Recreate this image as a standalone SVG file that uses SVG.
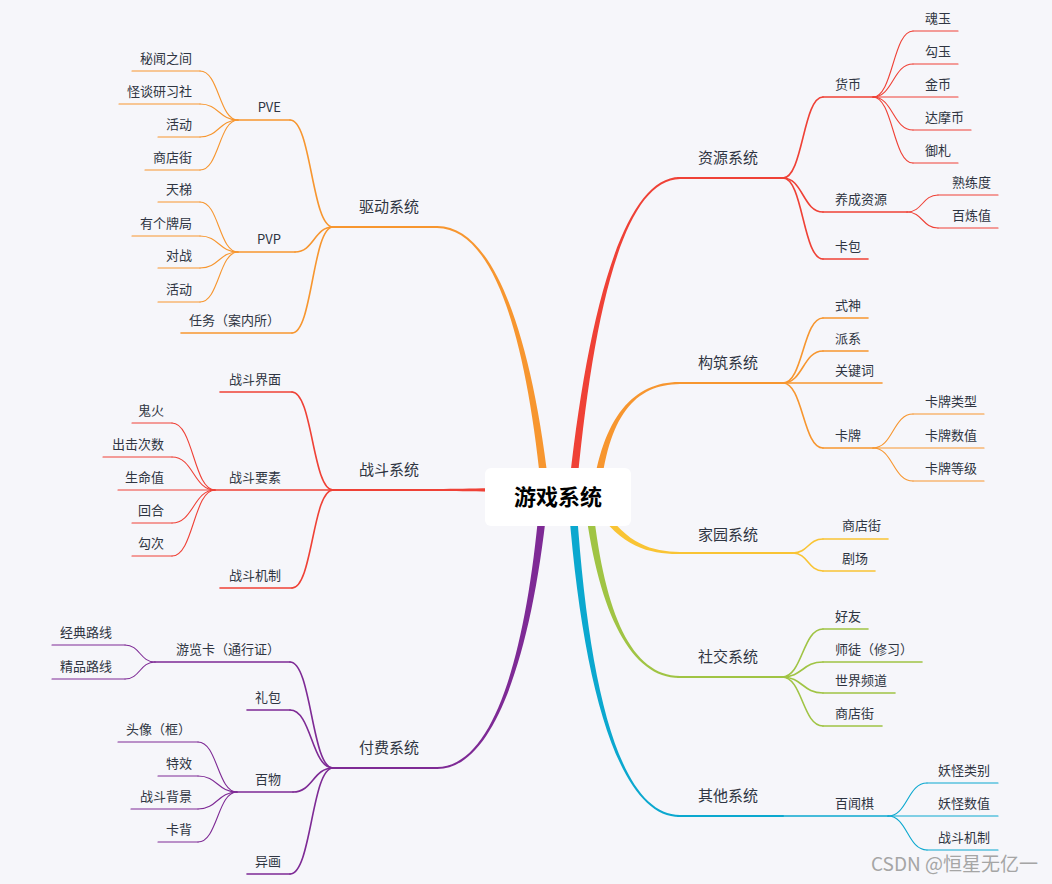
<svg xmlns="http://www.w3.org/2000/svg" width="1052" height="884" viewBox="0 0 1052 884">
<style>
text{font-family:"Noto Sans CJK SC","Microsoft YaHei","Noto Sans",sans-serif;fill:#2f3542}
.t1{font-size:15px}
.t2{font-size:13px}
.e{text-anchor:end}
.c0{font-size:22px;font-weight:bold;fill:#000;text-anchor:middle}
.wm{font-size:19px;fill:#a5a5a5;text-anchor:end}
line,path.k{fill:none;stroke-linecap:round}
.w1{stroke-width:2}
.w2{stroke-width:1.6}
.w3{stroke-width:1.1}
.red{stroke:#ef4136}
.org{stroke:#f7962f}
.yel{stroke:#f9c434}
.grn{stroke:#a0c444}
.cyn{stroke:#0ba8cf}
.pur{stroke:#7e2a95}
</style>
<rect width="1052" height="884" fill="#f6f6fa"/>
<g id="connectors">
<!-- main tapered branches -->
<path fill="#f7962f" d="M550 497 C533 340,495 225.5,437 226 L437 228 C495 228.5,527 340,542 497 Z"/>
<path fill="#ef4136" d="M490 488.3 C470 488.5,455 489,437 489 L437 491 C455 491,470 491.5,490 491.7 Z"/>
<path fill="#7e2a95" d="M548 497 C533 650,495 769.5,437 769 L437 767 C495 766.5,527 650,540 497 Z"/>
<path fill="#ef4136" d="M568 497 C585 330,620 176.5,680 177 L680 179 C620 179.5,591 330,576 497 Z"/>
<path fill="#f7962f" d="M592 497 C602 415,635 381.5,680 382 L680 384 C635 384.5,608 415,600 497 Z"/>
<path fill="#f9c434" d="M591 500 C617 547,650 554.5,680 554 L680 552 C650 551.5,623 543,599 500 Z"/>
<path fill="#a0c444" d="M584 497 C597 610,630 678.5,680 678 L680 676 C630 675.5,603 610,592 497 Z"/>
<path fill="#0ba8cf" d="M568 497 C582 690,620 817.5,680 817 L680 815 C620 814.5,588 690,576 497 Z"/>
<!-- 驱动系统 -->
<path class="k org w2" d="M333 227 C311.5 227,311.5 120,290 120"/>
<path class="k org w2" d="M333 227 C314 227,314 252,295 252"/>
<path class="k org w2" d="M333 227 C312.5 227,312.5 333,292 333"/>
<path class="k org w3" d="M238 120 C219 120,219 71,200 71"/>
<path class="k org w3" d="M238 120 C219 120,219 104,200 104"/>
<path class="k org w3" d="M238 120 C219 120,219 137,200 137"/>
<path class="k org w3" d="M238 120 C219 120,219 170,200 170"/>
<path class="k org w3" d="M238 252 C219 252,219 202,200 202"/>
<path class="k org w3" d="M238 252 C219 252,219 236,200 236"/>
<path class="k org w3" d="M238 252 C219 252,219 268,200 268"/>
<path class="k org w3" d="M238 252 C219 252,219 302,200 302"/>
<!-- 战斗系统 -->
<path class="k red w2" d="M333 490 C312.5 490,312.5 392,292 392"/>
<path class="k red w2" d="M333 490 C312.5 490,312.5 588,292 588"/>
<path class="k red w3" d="M215 490 C193.5 490,193.5 423,172 423"/>
<path class="k red w3" d="M215 490 C193.5 490,193.5 457,172 457"/>
<path class="k red w3" d="M215 490 C193.5 490,193.5 523,172 523"/>
<path class="k red w3" d="M215 490 C193.5 490,193.5 556,172 556"/>
<!-- 付费系统 -->
<path class="k pur w2" d="M333 768 C311.5 768,311.5 662,290 662"/>
<path class="k pur w2" d="M333 768 C311.5 768,311.5 710,290 710"/>
<path class="k pur w2" d="M333 768 C313 768,313 792,293 792"/>
<path class="k pur w2" d="M333 768 C311.5 768,311.5 874,290 874"/>
<path class="k pur w3" d="M155 662 C140 662,140 645,125 645"/>
<path class="k pur w3" d="M155 662 C140 662,140 679,125 679"/>
<path class="k pur w3" d="M237 792 C217.5 792,217.5 742,198 742"/>
<path class="k pur w3" d="M237 792 C217.5 792,217.5 776,198 776"/>
<path class="k pur w3" d="M237 792 C217.5 792,217.5 809,198 809"/>
<path class="k pur w3" d="M237 792 C217.5 792,217.5 842,198 842"/>
<!-- 资源系统 -->
<path class="k red w2" d="M783 178 C803 178,803 97,823 97"/>
<path class="k red w2" d="M783 178 C803 178,803 212,823 212"/>
<path class="k red w2" d="M783 178 C803 178,803 259,823 259"/>
<path class="k red w3" d="M873 97 C893 97,893 31,913 31"/>
<path class="k red w3" d="M873 97 C893 97,893 64,913 64"/>
<path class="k red w3" d="M873 97 C893 97,893 130,913 130"/>
<path class="k red w3" d="M873 97 C893 97,893 163,913 163"/>
<path class="k red w3" d="M907 212 C922.5 212,922.5 195,938 195"/>
<path class="k red w3" d="M907 212 C922.5 212,922.5 228,938 228"/>
<!-- 构筑系统 -->
<path class="k org w2" d="M783 383 C803 383,803 318,823 318"/>
<path class="k org w2" d="M783 383 C803 383,803 351,823 351"/>
<path class="k org w2" d="M783 383 C803 383,803 448,823 448"/>
<path class="k org w3" d="M873 448 C893 448,893 414,913 414"/>
<path class="k org w3" d="M873 448 C893 448,893 481,913 481"/>
<!-- 家园系统 -->
<path class="k yel w2" d="M793 553 C808 553,808 539,823 539"/>
<path class="k yel w2" d="M793 553 C808 553,808 571,823 571"/>
<!-- 社交系统 -->
<path class="k grn w2" d="M782 677 C802.5 677,802.5 629,823 629"/>
<path class="k grn w2" d="M782 677 C802.5 677,802.5 662,823 662"/>
<path class="k grn w2" d="M782 677 C802.5 677,802.5 693,823 693"/>
<path class="k grn w2" d="M782 677 C802.5 677,802.5 726,823 726"/>
<!-- 其他系统 -->
<path class="k cyn w3" d="M888 816 C907.5 816,907.5 783,927 783"/>
<path class="k cyn w3" d="M888 816 C907.5 816,907.5 850,927 850"/>
</g>

<g id="root">
<rect x="485" y="468" width="146" height="58" rx="6" fill="#fff"/>
<text class="c0" x="558" y="505">游戏系统</text>
</g>

<!-- 驱动系统 -->
<g id="n-qudong"><line class="org w1" x1="333" y1="227" x2="437" y2="227"/><text class="t1 e" x="419" y="212">驱动系统</text></g>
<g id="n-pve"><line class="org w2" x1="238" y1="120" x2="290" y2="120"/><text class="t2 e" x="281" y="112">PVE</text></g>
<g id="n-mwzj"><line class="org w3" x1="132" y1="71" x2="200" y2="71"/><text class="t2 e" x="192" y="63">秘闻之间</text></g>
<g id="n-gtyxs"><line class="org w3" x1="119" y1="104" x2="200" y2="104"/><text class="t2 e" x="192" y="96">怪谈研习社</text></g>
<g id="n-hd1"><line class="org w3" x1="158" y1="137" x2="200" y2="137"/><text class="t2 e" x="192" y="129">活动</text></g>
<g id="n-sdj1"><line class="org w3" x1="145" y1="170" x2="200" y2="170"/><text class="t2 e" x="192" y="162">商店街</text></g>
<g id="n-pvp"><line class="org w2" x1="238" y1="252" x2="295" y2="252"/><text class="t2 e" x="281" y="244">PVP</text></g>
<g id="n-tt"><line class="org w3" x1="158" y1="202" x2="200" y2="202"/><text class="t2 e" x="192" y="194">天梯</text></g>
<g id="n-ygpj"><line class="org w3" x1="132" y1="236" x2="200" y2="236"/><text class="t2 e" x="192" y="228">有个牌局</text></g>
<g id="n-dz"><line class="org w3" x1="158" y1="268" x2="200" y2="268"/><text class="t2 e" x="192" y="260">对战</text></g>
<g id="n-hd2"><line class="org w3" x1="158" y1="302" x2="200" y2="302"/><text class="t2 e" x="192" y="294">活动</text></g>
<g id="n-rw"><line class="org w2" x1="181" y1="333" x2="292" y2="333"/><text class="t2 e" x="280" y="325">任务（案内所）</text></g>

<!-- 战斗系统 -->
<g id="n-zhandou"><line class="red w1" x1="333" y1="490" x2="437" y2="490"/><text class="t1 e" x="419" y="475">战斗系统</text></g>
<g id="n-zdjm"><line class="red w2" x1="220" y1="392" x2="292" y2="392"/><text class="t2 e" x="281" y="384">战斗界面</text></g>
<g id="n-zdys"><line class="red w2" x1="215" y1="490" x2="333" y2="490"/><text class="t2 e" x="281" y="482">战斗要素</text></g>
<g id="n-gh"><line class="red w3" x1="132" y1="423" x2="172" y2="423"/><text class="t2 e" x="164" y="415">鬼火</text></g>
<g id="n-cjcs"><line class="red w3" x1="103" y1="457" x2="172" y2="457"/><text class="t2 e" x="164" y="449">出击次数</text></g>
<g id="n-smz"><line class="red w3" x1="118" y1="490" x2="215" y2="490"/><text class="t2 e" x="164" y="482">生命值</text></g>
<g id="n-hh"><line class="red w3" x1="132" y1="523" x2="172" y2="523"/><text class="t2 e" x="164" y="515">回合</text></g>
<g id="n-gc"><line class="red w3" x1="132" y1="556" x2="172" y2="556"/><text class="t2 e" x="164" y="548">勾次</text></g>
<g id="n-zdjz"><line class="red w2" x1="220" y1="588" x2="292" y2="588"/><text class="t2 e" x="281" y="580">战斗机制</text></g>

<!-- 付费系统 -->
<g id="n-fufei"><line class="pur w1" x1="333" y1="768" x2="437" y2="768"/><text class="t1 e" x="419" y="753">付费系统</text></g>
<g id="n-ylk"><line class="pur w2" x1="155" y1="662" x2="290" y2="662"/><text class="t2 e" x="280" y="654">游览卡（通行证）</text></g>
<g id="n-jdlx"><line class="pur w3" x1="52" y1="645" x2="125" y2="645"/><text class="t2 e" x="112" y="637">经典路线</text></g>
<g id="n-jplx"><line class="pur w3" x1="52" y1="679" x2="125" y2="679"/><text class="t2 e" x="112" y="671">精品路线</text></g>
<g id="n-lb"><line class="pur w2" x1="247" y1="710" x2="290" y2="710"/><text class="t2 e" x="281" y="702">礼包</text></g>
<g id="n-bw"><line class="pur w2" x1="237" y1="792" x2="293" y2="792"/><text class="t2 e" x="281" y="784">百物</text></g>
<g id="n-tx"><line class="pur w3" x1="118" y1="742" x2="198" y2="742"/><text class="t2 e" x="191" y="734">头像（框）</text></g>
<g id="n-txiao"><line class="pur w3" x1="158" y1="776" x2="198" y2="776"/><text class="t2 e" x="192" y="768">特效</text></g>
<g id="n-zdbj"><line class="pur w3" x1="131" y1="809" x2="198" y2="809"/><text class="t2 e" x="192" y="801">战斗背景</text></g>
<g id="n-kb"><line class="pur w3" x1="158" y1="842" x2="198" y2="842"/><text class="t2 e" x="192" y="834">卡背</text></g>
<g id="n-yh"><line class="pur w2" x1="247" y1="874" x2="290" y2="874"/><text class="t2 e" x="281" y="866">异画</text></g>

<!-- 资源系统 -->
<g id="n-ziyuan"><line class="red w1" x1="678" y1="178" x2="783" y2="178"/><text class="t1" x="698" y="163">资源系统</text></g>
<g id="n-hb"><line class="red w2" x1="823" y1="97" x2="873" y2="97"/><text class="t2" x="835" y="89">货币</text></g>
<g id="n-hy"><line class="red w3" x1="913" y1="31" x2="958" y2="31"/><text class="t2" x="925" y="23">魂玉</text></g>
<g id="n-gy"><line class="red w3" x1="913" y1="64" x2="958" y2="64"/><text class="t2" x="925" y="56">勾玉</text></g>
<g id="n-jb"><line class="red w3" x1="873" y1="97" x2="958" y2="97"/><text class="t2" x="925" y="89">金币</text></g>
<g id="n-dmb"><line class="red w3" x1="913" y1="130" x2="971" y2="130"/><text class="t2" x="925" y="122">达摩币</text></g>
<g id="n-yz"><line class="red w3" x1="913" y1="163" x2="958" y2="163"/><text class="t2" x="925" y="155">御札</text></g>
<g id="n-yczy"><line class="red w2" x1="823" y1="212" x2="907" y2="212"/><text class="t2" x="835" y="204">养成资源</text></g>
<g id="n-sld"><line class="red w3" x1="938" y1="195" x2="998" y2="195"/><text class="t2" x="952" y="187">熟练度</text></g>
<g id="n-blz"><line class="red w3" x1="938" y1="228" x2="998" y2="228"/><text class="t2" x="952" y="220">百炼值</text></g>
<g id="n-kbao"><line class="red w2" x1="823" y1="259" x2="868" y2="259"/><text class="t2" x="835" y="251">卡包</text></g>

<!-- 构筑系统 -->
<g id="n-gouzhu"><line class="org w1" x1="678" y1="383" x2="783" y2="383"/><text class="t1" x="698" y="368">构筑系统</text></g>
<g id="n-ss"><line class="org w2" x1="823" y1="318" x2="868" y2="318"/><text class="t2" x="835" y="310">式神</text></g>
<g id="n-px"><line class="org w2" x1="823" y1="351" x2="868" y2="351"/><text class="t2" x="835" y="343">派系</text></g>
<g id="n-gjc"><line class="org w2" x1="783" y1="383" x2="882" y2="383"/><text class="t2" x="835" y="375">关键词</text></g>
<g id="n-kp"><line class="org w2" x1="823" y1="448" x2="873" y2="448"/><text class="t2" x="835" y="440">卡牌</text></g>
<g id="n-kplx"><line class="org w3" x1="913" y1="414" x2="984" y2="414"/><text class="t2" x="925" y="406">卡牌类型</text></g>
<g id="n-kpsz"><line class="org w3" x1="873" y1="448" x2="984" y2="448"/><text class="t2" x="925" y="440">卡牌数值</text></g>
<g id="n-kpdj"><line class="org w3" x1="913" y1="481" x2="984" y2="481"/><text class="t2" x="925" y="473">卡牌等级</text></g>

<!-- 家园系统 -->
<g id="n-jiayuan"><line class="yel w1" x1="678" y1="553" x2="793" y2="553"/><text class="t1" x="698" y="540">家园系统</text></g>
<g id="n-sdj2"><line class="yel w2" x1="823" y1="539" x2="888" y2="539"/><text class="t2" x="842" y="530">商店街</text></g>
<g id="n-jc"><line class="yel w2" x1="823" y1="571" x2="875" y2="571"/><text class="t2" x="842" y="563">剧场</text></g>

<!-- 社交系统 -->
<g id="n-shejiao"><line class="grn w1" x1="678" y1="677" x2="782" y2="677"/><text class="t1" x="698" y="662">社交系统</text></g>
<g id="n-hyou"><line class="grn w2" x1="823" y1="629" x2="868" y2="629"/><text class="t2" x="835" y="621">好友</text></g>
<g id="n-st"><line class="grn w2" x1="823" y1="662" x2="922" y2="662"/><text class="t2" x="835" y="654">师徒（修习）</text></g>
<g id="n-sjpd"><line class="grn w2" x1="823" y1="693" x2="895" y2="693"/><text class="t2" x="835" y="685">世界频道</text></g>
<g id="n-sdj3"><line class="grn w2" x1="823" y1="726" x2="882" y2="726"/><text class="t2" x="835" y="718">商店街</text></g>

<!-- 其他系统 -->
<g id="n-qita"><line class="cyn w1" x1="678" y1="816" x2="783" y2="816"/><text class="t1" x="698" y="801">其他系统</text></g>
<g id="n-bwq"><line class="cyn w2" x1="783" y1="816" x2="888" y2="816"/><text class="t2" x="835" y="808">百闻棋</text></g>
<g id="n-ygl"><line class="cyn w3" x1="927" y1="783" x2="998" y2="783"/><text class="t2" x="938" y="775">妖怪类别</text></g>
<g id="n-ygsz"><line class="cyn w3" x1="888" y1="816" x2="998" y2="816"/><text class="t2" x="938" y="808">妖怪数值</text></g>
<g id="n-zdjz2"><line class="cyn w3" x1="927" y1="850" x2="998" y2="850"/><text class="t2" x="938" y="842">战斗机制</text></g>

<text class="wm" x="1038" y="871">CSDN @恒星无亿一</text>
</svg>
